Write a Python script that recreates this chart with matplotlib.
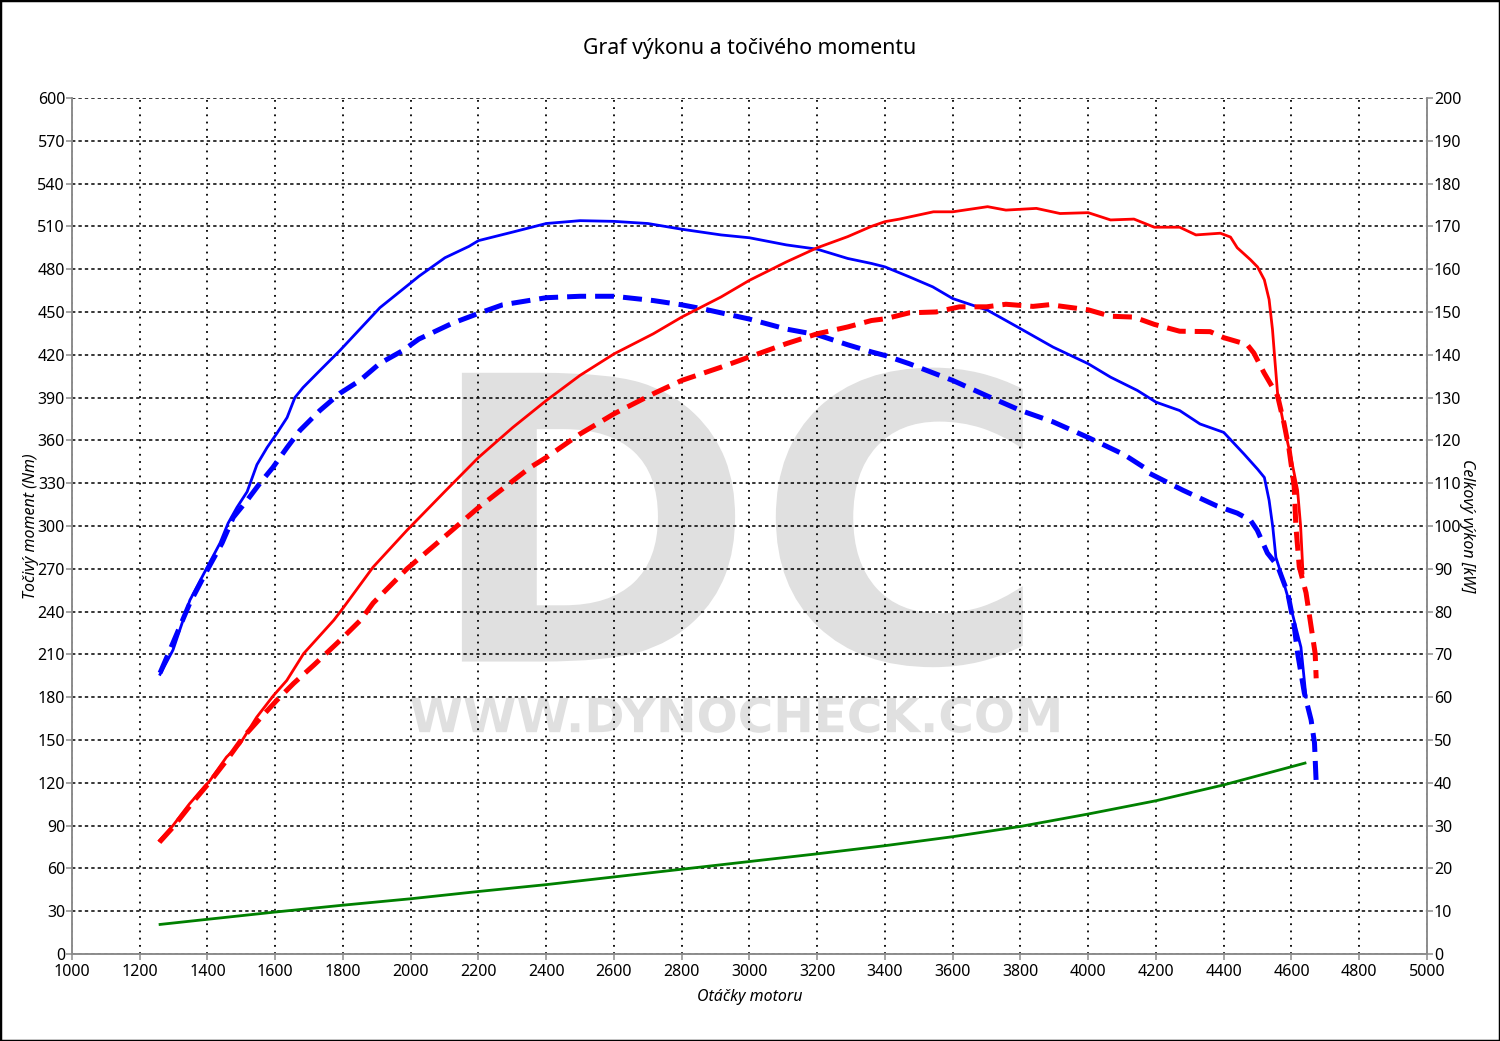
import matplotlib
matplotlib.use("Agg")
import matplotlib.pyplot as plt
import numpy as np
from matplotlib.textpath import TextPath
from matplotlib.font_manager import FontProperties
from matplotlib.patches import PathPatch, Rectangle
from matplotlib.transforms import Affine2D

# --------------------------------------------------------------
# Data
# --------------------------------------------------------------
# tuned torque [Nm] - blue solid
rpm_tq_tuned = [1260, 1298, 1348, 1399, 1437, 1461, 1487, 1517, 1546, 1576, 1605, 1635, 1658,
                1682, 1732, 1791, 1909, 1998, 2024, 2101, 2172, 2200, 2301, 2400, 2500, 2600,
                2700, 2800, 2916, 3000, 3109, 3200, 3290, 3360, 3400, 3472, 3541, 3600, 3703,
                3800, 3896, 4000, 4066, 4145, 4200, 4270, 4330, 4400, 4460, 4500, 4520, 4534,
                4545, 4554, 4569, 4598, 4628, 4643]
tq_tuned = [196, 213, 248, 271, 288, 302, 313, 324, 343, 355, 365, 376, 390,
            397, 409, 423, 453, 470, 475, 488, 496, 500, 506, 512, 514, 513.5,
            512, 508, 504, 502, 497, 494, 487.5, 484, 481.6, 474.6, 467.6, 459.4, 451.2,
            438.3, 425.4, 413.7, 404.3, 395, 386.8, 380.9, 371.5, 365.6, 350.4, 339.8, 334, 318,
            299, 278, 267, 243, 215, 180]

# stock torque [Nm] - blue dashed
rpm_tq_stock = [1260, 1298, 1348, 1399, 1443, 1476, 1517, 1555, 1593, 1635, 1673, 1732, 1791,
                1850, 1909, 1977, 2024, 2122, 2200, 2271, 2400, 2500, 2600, 2716, 2800, 2866,
                3000, 3109, 3200, 3290, 3360, 3400, 3472, 3600, 3703, 3800, 3896, 4000, 4106,
                4165, 4180, 4280, 4380, 4440, 4479, 4499, 4529, 4559, 4589, 4608, 4618, 4638,
                4658, 4668, 4673]
tq_stock = [197, 218, 246, 269, 288, 306, 318, 330, 341, 355, 367, 381, 393,
            402, 414, 423, 431, 442, 449, 455, 460, 461, 461, 458, 455, 452,
            445, 438, 434, 427, 422, 419.5, 413.7, 402, 391, 381, 373, 362, 350,
            341, 337, 325, 314, 309, 304, 297, 281, 272, 253, 230, 211, 183,
            164, 148, 120]

# tuned power [kW] - red solid
rpm_pw_tuned = [1258, 1298, 1347, 1407, 1456, 1496, 1545, 1595, 1634, 1684, 1773, 1800, 1889,
                1989, 2100, 2200, 2301, 2400, 2500, 2600, 2716, 2800, 2916, 3000, 3109,
                3200, 3290, 3360, 3400, 3443, 3543, 3600, 3703, 3757, 3847, 3917, 4000, 4066,
                4135, 4195, 4270, 4318, 4390, 4420, 4440, 4479, 4500, 4520, 4534, 4544, 4551,
                4559, 4578, 4598, 4618, 4627, 4634]
pw_tuned = [26.5, 30, 35.1, 40.5, 46, 49.1, 55.3, 60.4, 63.9, 70.2, 78, 80.8, 90.4,
            99, 108, 116, 123, 129.3, 135.2, 140.2, 144.9, 148.8, 153.5, 157.4, 161.7,
            165, 167.6, 170, 171.1, 171.7, 173.4, 173.4, 174.6, 173.8, 174.2, 173, 173.2, 171.5,
            171.7, 169.8, 169.8, 168, 168.4, 167.5, 165, 162.2, 160.5, 157.5, 152.9, 145.9, 138.8,
            131, 123.3, 116.2, 108.4, 100, 89]

# stock power [kW] - red dashed
rpm_pw_stock = [1258, 1298, 1357, 1407, 1456, 1506, 1555, 1605, 1654, 1714, 1793, 1852, 1889,
                1989, 2100, 2200, 2353, 2400, 2500, 2600, 2716, 2800, 2916, 3000, 3109, 3200,
                3290, 3360, 3400, 3472, 3551, 3620, 3700, 3757, 3837, 3886, 4000, 4066, 4135,
                4195, 4270, 4360, 4400, 4469, 4489, 4519, 4559, 4578, 4593, 4608, 4613, 4623,
                4643, 4658, 4670, 4673]
pw_stock = [26.1, 29.6, 35.5, 40.2, 45.2, 50.7, 55, 59.3, 63.2, 67.5, 73.4, 78, 82,
            90, 97.5, 104.3, 113.7, 116, 121.5, 126.2, 130.9, 134, 137.1, 139.5, 142.6, 144.9,
            146.5, 148, 148.4, 149.8, 150, 151.2, 151.2, 151.8, 151.3, 151.7, 150.5, 149, 148.8,
            147.1, 145.5, 145.4, 144, 142.4, 140.4, 135.8, 130.4, 124, 117.9, 109.3, 100, 90.5,
            84.4, 76.5, 70.2, 64.4]

# loss power [kW] - green
rpm_loss = [1260, 1400, 1600, 1800, 2000, 2200, 2400, 2600, 2800, 3000, 3200, 3400, 3600,
            3800, 4000, 4200, 4400, 4640]
pw_loss = [6.9, 8.1, 9.8, 11.4, 12.9, 14.6, 16.2, 18.0, 19.8, 21.6, 23.4, 25.3, 27.4,
           29.8, 32.7, 35.8, 39.5, 44.6]

x_ticks = np.arange(1000, 5001, 200)
tq_ticks = np.arange(0, 601, 30)
pw_ticks = np.arange(0, 201, 10)

# --------------------------------------------------------------
# Plot settings
# --------------------------------------------------------------
plt.rcParams["font.family"] = ["Noto Sans", "DejaVu Sans"]
spine_col = "#8c8c8c"
wm_col = "#e0e0e0"

fig = plt.figure(figsize=(15, 10.41), dpi=100)
ax = fig.add_axes([0.048, 0.0836, 0.9033, 0.8223])
ax2 = ax.twinx()


def watermark(a, text, x0, y0, x1, y1):
    tp = TextPath((0, 0), text, size=1, prop=FontProperties(family="DejaVu Sans", weight="bold"))
    ext = tp.get_extents()
    tr = (Affine2D().translate(-ext.x0, -ext.y0)
          .scale((x1 - x0) / ext.width, (y1 - y0) / ext.height).translate(x0, y0))
    a.add_patch(PathPatch(tr.transform_path(tp), facecolor=wm_col, edgecolor="none", zorder=0.5))


watermark(ax, "DC", 2151, 201, 3807, 411)
watermark(ax, "WWW.DYNOCHECK.COM", 2001, 155, 3913, 180)

# torque curves
ax.plot(rpm_tq_tuned, tq_tuned, color="#0000ff", lw=2.0, zorder=3)
ax.plot(rpm_tq_stock, tq_stock, color="#0000ff", lw=3.6, dashes=(3.8, 1.8), zorder=3)

# power curves
ax2.plot(rpm_pw_tuned, pw_tuned, color="#ff0000", lw=2.0, zorder=3)
ax2.plot(rpm_pw_stock, pw_stock, color="#ff0000", lw=3.6, dashes=(3.8, 1.8), zorder=3)
ax2.plot(rpm_loss, pw_loss, color="#008000", lw=2.0, zorder=3)

ax.set_xlim(1000, 5000)
ax.set_ylim(0, 600)
ax2.set_ylim(0, 200)
ax.set_xticks(x_ticks)
ax.set_yticks(tq_ticks)
ax2.set_yticks(pw_ticks)

# grid
ax.xaxis.grid(True, color="black", lw=1.3, linestyle=(0, (1.0, 3.0)))
ax.yaxis.grid(True, color="black", lw=1.1, linestyle=(0, (2.2, 2.0)))

for a in (ax, ax2):
    for side in ("left", "right", "bottom"):
        a.spines[side].set_color(spine_col)
        a.spines[side].set_linewidth(1.2)
    a.spines["top"].set_visible(False)
    a.tick_params(direction="out", length=4, width=1.1, color=spine_col,
                  labelsize=11.5, labelcolor="black", pad=1)
ax.tick_params(axis="x", pad=3)

ax.set_title("Graf výkonu a točivého momentu", fontsize=15.3, pad=32)
ax.set_xlabel("Otáčky motoru", fontsize=11.5, style="italic", labelpad=7)
ax.set_ylabel("Točivý moment (Nm)", fontsize=11.5, style="italic", labelpad=-1)
ax2.set_ylabel("Celkový výkon [kW]", fontsize=11.5, style="italic", rotation=-90, labelpad=10)

# outer frame
fig.add_artist(Rectangle((0, 0), 1, 1, transform=fig.transFigure, fill=False,
                         edgecolor="black", lw=2.5))

fig.savefig("out.png", dpi=100)
